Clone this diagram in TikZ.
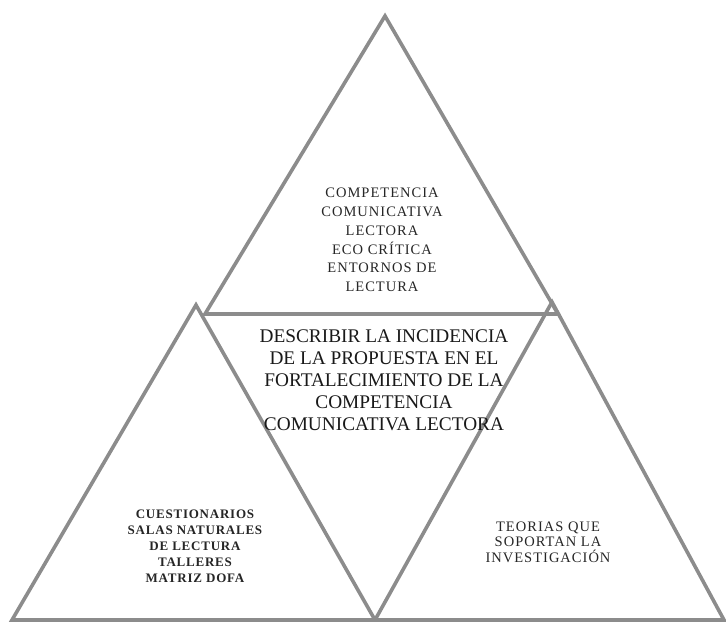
\documentclass[tikz,border=0pt]{standalone}
\usepackage{fontspec}
\setmainfont{Liberation Serif}
\begin{document}
\begin{tikzpicture}[x=1pt,y=-1pt,
  edge/.style={draw=black!45,line width=3.6pt,line join=miter},
  smalltxt/.style={align=center,text=black!85,font=\fontsize{14.5}{18.8}\selectfont\addfontfeature{LetterSpace=7}},
  bigtxt/.style={align=center,text=black!90,font=\fontsize{19.3}{22}\selectfont},
  boldtxt/.style={align=center,text=black!85,font=\bfseries\fontsize{13}{16}\selectfont\addfontfeature{LetterSpace=6}}]
\useasboundingbox (0,0) rectangle (726,623);
% vertices
\coordinate (A) at (385,16);
\coordinate (B) at (205,314);
\coordinate (C) at (558,314);
\coordinate (L) at (196,305);
\coordinate (LL) at (12,620);
\coordinate (M) at (375,620);
\coordinate (R) at (552,302);
\coordinate (RR) at (724,620);
% triangles
\draw[edge] (A) -- (B) -- (C) -- cycle;
\draw[edge] (L) -- (LL) -- (M) -- cycle;
\draw[edge] (R) -- (M) -- (RR) -- cycle;
% texts
\node[smalltxt] (top) at (382,240) {COMPETENCIA\\COMUNICATIVA\\LECTORA\\ECO CRÍTICA\\ENTORNOS DE\\LECTURA};
\node[bigtxt] (mid) at (384,380) {DESCRIBIR LA INCIDENCIA\\DE LA PROPUESTA EN EL\\FORTALECIMIENTO DE LA\\COMPETENCIA\\COMUNICATIVA LECTORA};
\node[boldtxt] (left) at (195,546) {CUESTIONARIOS\\SALAS NATURALES\\DE LECTURA\\TALLERES\\MATRIZ DOFA};
\node[smalltxt,font=\fontsize{14.5}{15.5}\selectfont\addfontfeature{LetterSpace=7}] (right) at (548,542) {TEORIAS QUE\\SOPORTAN LA\\INVESTIGACIÓN};
\end{tikzpicture}
\end{document}
